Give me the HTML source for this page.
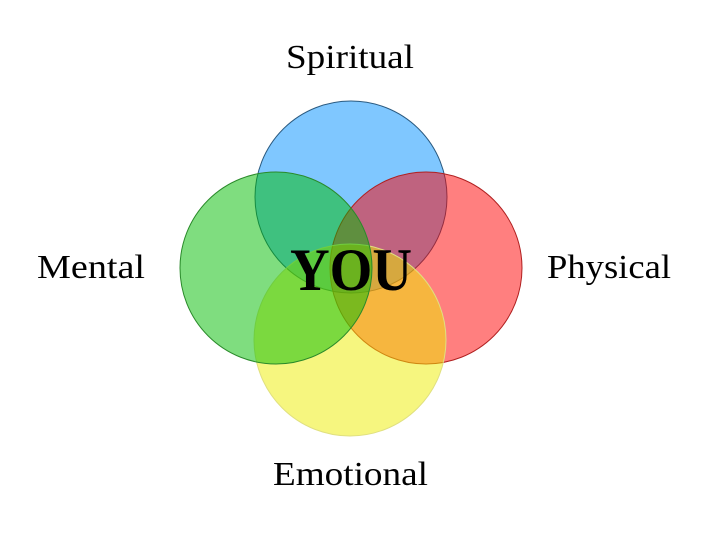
<!DOCTYPE html>
<html><head><meta charset="utf-8"><style>
html,body{margin:0;padding:0;background:#fff;}
svg{display:block;}
text{font-family:"Liberation Serif",serif;fill:#000;}
</style></head><body>
<svg width="720" height="537" viewBox="0 0 720 537">
<circle cx="351" cy="197" r="96" fill="#0090ff" fill-opacity="0.5" stroke="#2a5a80" stroke-width="1"/>
<circle cx="426" cy="268" r="96" fill="#ff0000" fill-opacity="0.5" stroke="#b02020" stroke-width="1"/>
<circle cx="350" cy="340" r="96" fill="#eeee00" fill-opacity="0.5" stroke="#e0e080" stroke-width="1"/>
<circle cx="276" cy="268" r="96" fill="#00bb00" fill-opacity="0.5" stroke="#2a8a2a" stroke-width="1"/>
<text x="350" y="68" font-size="34" text-anchor="middle" textLength="128" lengthAdjust="spacingAndGlyphs">Spiritual</text>
<text x="37" y="278" font-size="34" textLength="108" lengthAdjust="spacingAndGlyphs">Mental</text>
<text x="547" y="278" font-size="34" textLength="124" lengthAdjust="spacingAndGlyphs">Physical</text>
<text x="273" y="485" font-size="34" textLength="155" lengthAdjust="spacingAndGlyphs">Emotional</text>
<text x="351" y="290" font-size="60" font-weight="bold" text-anchor="middle" textLength="122" lengthAdjust="spacingAndGlyphs">YOU</text>
</svg>
</body></html>
